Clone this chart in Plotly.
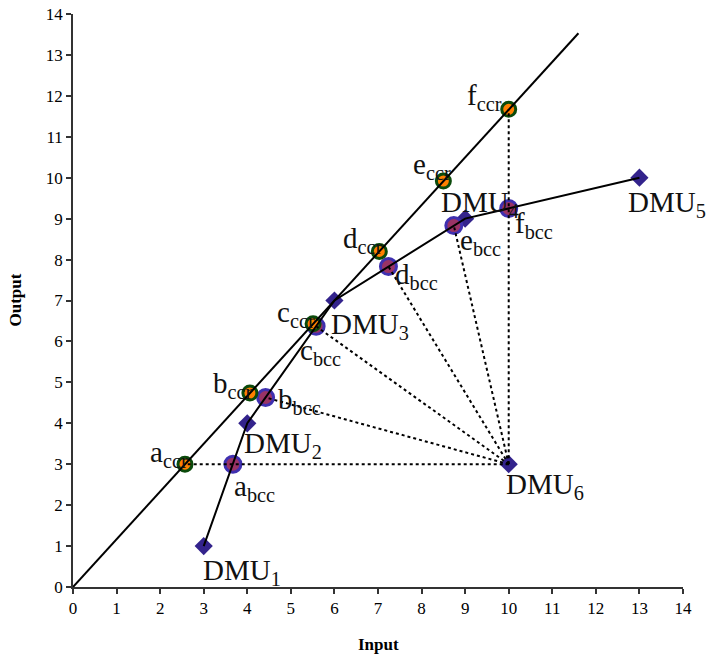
import plotly.graph_objects as go

# ---- data ----
dmu_names = ["DMU<sub>1</sub>", "DMU<sub>2</sub>", "DMU<sub>3</sub>", "DMU<sub>4</sub>", "DMU<sub>5</sub>", "DMU<sub>6</sub>"]
dmu_x = [3, 4, 6, 9, 13, 10]
dmu_y = [1, 4, 7, 9, 10, 3]

frontier_x = [3, 4, 6, 9, 13]
frontier_y = [1, 4, 7, 9, 10]

ccr_line_x = [0, 11.6]
ccr_line_y = [0, 13.53]

proj_letters = ["a", "b", "c", "d", "e", "f"]
ccr_x = [2.57, 4.06, 5.51, 7.03, 8.50, 10.0]
ccr_y = [3.00, 4.74, 6.43, 8.20, 9.92, 11.67]
bcc_x = [3.67, 4.42, 5.58, 7.24, 8.74, 10.0]
bcc_y = [3.00, 4.63, 6.37, 7.83, 8.83, 9.25]

ray_target = ["ccr", "bcc", "bcc", "bcc", "bcc", "ccr"]

x_ticks = list(range(0, 15))
y_ticks = list(range(0, 15))

# ---- styling ----
FONT = "Liberation Serif, Times New Roman, serif"
LBL = 29
DIAMOND = "#33238c"

dmu_off = [("left", -3, 24), ("left", -5, 20), ("left", -5, 23),
           ("left", -26, -17), ("left", -13, 24), ("left", -5, 20)]
ccr_off = [("right", 5, -12), ("right", 5, -10), ("right", 4, -12),
           ("right", 6, -13), ("right", 10, -17), ("right", -5, -14)]
bcc_off = [("left", -1, 22), ("left", 10, 1), ("left", -18, 24),
           ("left", 5, 7), ("left", 4, 14), ("left", 4, 15)]

fig = go.Figure()

fig.add_trace(go.Scatter(x=dmu_x, y=dmu_y, mode="markers",
                         marker=dict(symbol="diamond", size=14, color=DIAMOND),
                         hoverinfo="skip"))
fig.add_trace(go.Scatter(x=bcc_x, y=bcc_y, mode="markers",
                         marker=dict(symbol="circle", size=16, color="#993366",
                                     line=dict(color="#3f30b0", width=3)),
                         hoverinfo="skip"))
fig.add_trace(go.Scatter(x=ccr_x, y=ccr_y, mode="markers",
                         marker=dict(symbol="circle", size=14, color="#ff8000",
                                     line=dict(color="#0b4a0b", width=3)),
                         hoverinfo="skip"))

fig.add_trace(go.Scatter(x=ccr_line_x, y=ccr_line_y, mode="lines",
                         line=dict(color="black", width=2), hoverinfo="skip"))
fig.add_trace(go.Scatter(x=frontier_x, y=frontier_y, mode="lines",
                         line=dict(color="black", width=2), hoverinfo="skip"))

rx, ry = [], []
x6, y6 = dmu_x[5], dmu_y[5]
for i, t in enumerate(ray_target):
    tx = ccr_x[i] if t == "ccr" else bcc_x[i]
    ty = ccr_y[i] if t == "ccr" else bcc_y[i]
    rx += [x6, tx, None]
    ry += [y6, ty, None]
fig.add_trace(go.Scatter(x=rx, y=ry, mode="lines",
                         line=dict(color="black", width=2, dash="dot"),
                         hoverinfo="skip"))

anns = []
def add_label(x, y, text, off):
    xa, dx, dy = off
    anns.append(dict(x=x, y=y, xref="x", yref="y", text=text, showarrow=False,
                     xanchor=xa, yanchor="middle", xshift=dx, yshift=-dy - 2,
                     font=dict(family=FONT, size=LBL, color="#111111")))

for i in range(6):
    add_label(dmu_x[i], dmu_y[i], dmu_names[i], dmu_off[i])
    add_label(ccr_x[i], ccr_y[i], proj_letters[i] + "<sub>ccr</sub>", ccr_off[i])
    add_label(bcc_x[i], bcc_y[i], proj_letters[i] + "<sub>bcc</sub>", bcc_off[i])

anns.append(dict(x=0.5, y=0, xref="paper", yref="paper", yshift=-46, text="<b>Input</b>",
                 showarrow=False, xanchor="center", yanchor="top",
                 font=dict(family=FONT, size=17, color="black")))
anns.append(dict(x=0, y=0.5, xref="paper", yref="paper", xshift=-58, text="<b>Output</b>",
                 showarrow=False, xanchor="center", yanchor="middle", textangle=-90,
                 font=dict(family=FONT, size=17, color="black")))

fig.update_layout(
    width=707, height=657,
    margin=dict(l=73, r=24, t=14, b=70),
    paper_bgcolor="white", plot_bgcolor="white",
    showlegend=False,
    annotations=anns,
    font=dict(family=FONT, size=16, color="black"),
)
axis_common = dict(showgrid=False, zeroline=False, showline=True, linecolor="#333333",
                   linewidth=1.5, ticks="outside", ticklen=5, tickcolor="#333333",
                   tickwidth=1.5, range=[0, 14], automargin=False,
                   tickfont=dict(family=FONT, size=17, color="black"))
fig.update_xaxes(**axis_common, tickvals=x_ticks)
fig.update_yaxes(**axis_common, tickvals=y_ticks)

fig.write_html("out.html")
